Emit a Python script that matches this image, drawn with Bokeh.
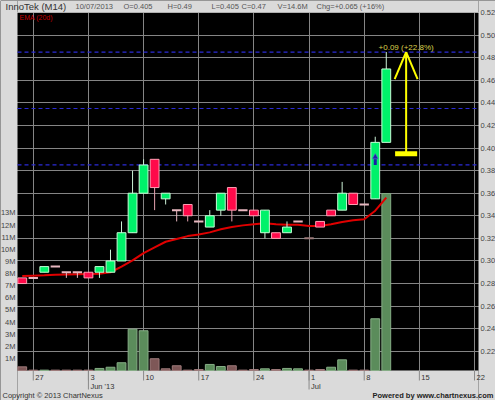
from bokeh.plotting import figure
from bokeh.models import Range1d, ColumnDataSource, Grid, FixedTicker
from bokeh.core.properties import value
from bokeh.embed import file_html
from bokeh.resources import INLINE

# ---------------- data ----------------
dates = ["2013-05-24", "2013-05-27", "2013-05-28", "2013-05-29", "2013-05-30", "2013-05-31",
         "2013-06-03", "2013-06-04", "2013-06-05", "2013-06-06", "2013-06-07",
         "2013-06-10", "2013-06-11", "2013-06-12", "2013-06-13", "2013-06-14",
         "2013-06-17", "2013-06-18", "2013-06-19", "2013-06-20", "2013-06-21",
         "2013-06-24", "2013-06-25", "2013-06-26", "2013-06-27", "2013-06-28",
         "2013-07-01", "2013-07-02", "2013-07-03", "2013-07-04", "2013-07-05",
         "2013-07-08", "2013-07-09", "2013-07-10"]
opens = [0.285, 0.285, 0.290, 0.295, 0.290, 0.290, 0.290, 0.290, 0.290, 0.300, 0.325,
         0.360, 0.390, 0.355, 0.345, 0.350, 0.335, 0.330, 0.345, 0.365, 0.345,
         0.345, 0.325, 0.325, 0.325, 0.335, 0.320, 0.335, 0.345, 0.345, 0.360,
         0.350, 0.355, 0.405]
highs = [0.285, 0.285, 0.295, 0.295, 0.290, 0.290, 0.290, 0.295, 0.310, 0.335, 0.380,
         0.390, 0.390, 0.360, 0.345, 0.350, 0.335, 0.345, 0.360, 0.365, 0.345,
         0.345, 0.345, 0.325, 0.335, 0.335, 0.320, 0.335, 0.345, 0.370, 0.360,
         0.350, 0.410, 0.485]
lows = [0.280, 0.285, 0.290, 0.295, 0.285, 0.285, 0.285, 0.285, 0.290, 0.300, 0.325,
        0.360, 0.345, 0.350, 0.335, 0.335, 0.335, 0.330, 0.340, 0.335, 0.345,
        0.340, 0.320, 0.320, 0.325, 0.335, 0.320, 0.330, 0.340, 0.345, 0.350,
        0.350, 0.355, 0.405]
closes = [0.280, 0.285, 0.295, 0.295, 0.290, 0.290, 0.285, 0.295, 0.300, 0.325, 0.360,
          0.385, 0.365, 0.360, 0.345, 0.340, 0.335, 0.340, 0.360, 0.345, 0.345,
          0.340, 0.345, 0.320, 0.330, 0.335, 0.320, 0.330, 0.340, 0.360, 0.350,
          0.350, 0.405, 0.470]
volumes_m = [0.30, 0.03, 0.03, 0.03, 0.03, 0.03, 0.03, 0.17, 0.27, 0.64, 3.41,
             3.28, 0.97, 0.14, 0.39, 0.03, 0.08, 0.50, 0.33, 0.39, 0.03,
             0.08, 0.14, 0.08, 0.17, 0.14, 0.03, 0.08, 0.27, 0.88, 0.03,
             0.03, 4.27, 14.6]
vol_up = [0, 0, 1, 0, 0, 0, 0, 1, 1, 1, 1,
          1, 0, 0, 0, 0, 0, 1, 1, 0, 0,
          0, 1, 0, 1, 1, 0, 0, 1, 1, 0,
          0, 1, 1]
ema20 = [0.2867, 0.2870, 0.2873, 0.2877, 0.2880, 0.2882, 0.2884, 0.2886, 0.2900, 0.2950, 0.3005,
         0.3070, 0.3120, 0.3170, 0.3195, 0.3220, 0.3235, 0.3253, 0.3280, 0.3300, 0.3315,
         0.3325, 0.3333, 0.3325, 0.3320, 0.3320, 0.3310, 0.3310, 0.3325, 0.3345, 0.3360,
         0.3370, 0.3445, 0.3560]
grey_doji = [26]

week_ticks = [1, 6, 11, 16, 21, 26, 31, 36, 41]
week_labels = ["27", "3", "10", "17", "24", "1", "8", "15", "22"]
month_ticks = [6, 26]
month_labels = ["Jun '13", "Jul"]
price_ticks = [0.22, 0.24, 0.26, 0.28, 0.30, 0.32, 0.34, 0.36, 0.38, 0.40,
               0.42, 0.44, 0.46, 0.48, 0.50, 0.52]
price_labels = ["0.22", "0.24", "0.26", "0.28", "0.30", "0.32", "0.34", "0.36", "0.38",
                "0.40", "0.42", "0.44", "0.46", "0.48", "0.50", "0.52"]
vol_ticks = [1, 2, 3, 4, 5, 6, 7, 8, 9, 10, 11, 12, 13]
vol_labels = ["1M", "2M", "3M", "4M", "5M", "6M", "7M", "8M", "9M", "10M", "11M", "12M", "13M"]
level_lines = [0.385, 0.435, 0.485]

move_x, move_lo, move_hi = 34.8, 0.395, 0.485
move_text = "+0.09 (+22.8%)"
signal_x, signal_lo, signal_hi = 32, 0.385, 0.395

title_text = "InnoTek (M14)"
header_items = ["10/07/2013", "O=0.405", "H=0.49", "L=0.405", "C=0.47", "V=14.6M",
                "Chg=+0.065 (+16%)"]
ema_label = "EMA (20d)"
copyright_text = "Copyright \u00a9 2013 ChartNexus"
powered_text = "Powered by www.chartnexus.com"

# ---------------- layout / style ----------------
CW, CH = 495, 400                  # canvas
CL, CR, CT, CB = 17, 478, 12, 370  # chart area in pixels
XA, XB = -0.43, 41.36              # day-index range of the chart area
YA, YB = 0.203, 0.52               # price range of the chart area
VMAX = 29.54                       # volume (M) at the top of the chart area
header_x = [75, 123, 167, 211, 241, 277, 316]
FONT = "Liberation Sans"
BG = "#dadada"
GRID = "#858585"

sx = (CR - CL) / (XB - XA)
sy = (CB - CT) / (YB - YA)
sv = (CB - CT) / VMAX

p = figure(width=CW, height=CH,
           x_range=Range1d(XA - CL / sx, XB + (CW - CR) / sx),
           y_range=Range1d(YA - (CH - CB) / sy, YB + CT / sy),
           output_backend="svg", toolbar_location=None,
           x_axis_location=None, y_axis_location=None,
           min_border=0, min_border_left=0, min_border_right=0,
           min_border_top=0, min_border_bottom=0)
p.extra_x_ranges = {"px": Range1d(0, CW)}
p.extra_y_ranges = {"vol": Range1d(-(CH - CB) / sv, VMAX + CT / sv),
                    "py": Range1d(CH, 0)}
p.center = [r for r in p.center if not isinstance(r, Grid)]
p.background_fill_color = "#000000"
p.border_fill_color = BG
p.outline_line_color = None

# grid (library grids, drawn under everything; margins are covered below)
p.add_layout(Grid(dimension=0, ticker=FixedTicker(ticks=week_ticks),
                  grid_line_color=GRID, grid_line_width=1))
p.add_layout(Grid(dimension=1, ticker=FixedTicker(ticks=price_ticks),
                  grid_line_color=GRID, grid_line_width=1))

# light grey margins round the chart area
p.quad(left=[0, CR, CL, CL], right=[CL, CW, CR, CR], top=[0, 0, 0, CB],
       bottom=[CH, CH, CT, CH], x_range_name="px", y_range_name="py",
       fill_color=BG, line_color=None)

# level lines
p.segment(x0=[CL] * len(level_lines), x1=[CR] * len(level_lines), y0=level_lines, y1=level_lines,
          x_range_name="px", line_color="#2b2bd6", line_dash="4 3", line_width=1.2)

n = len(dates)
xs = list(range(n))

# volume
vsrc = ColumnDataSource(dict(
    x=xs, v=volumes_m,
    fill=["#5b8c5b" if u else "#7e5757" for u in vol_up],
    line=["#86ad86" if u else "#9e7b7b" for u in vol_up]))
p.vbar(x="x", width=0.8, top="v", bottom=0, source=vsrc, y_range_name="vol",
       fill_color="fill", line_color="line", line_width=1)

# EMA
p.line(xs, ema20, line_color="#e00000", line_width=2)

# candles
up_col, dn_col = "#00f26a", "#ff0a4a"
wick_col = []
for i in range(n):
    if closes[i] > opens[i]:
        wick_col.append("#cdf3d8")
    elif closes[i] < opens[i]:
        wick_col.append("#e6a2b0")
    else:
        wick_col.append("#9a7a7a" if i in grey_doji else "#e8b8c0")
p.segment(x0=xs, y0=lows, x1=xs, y1=highs, line_color=wick_col, line_width=1)

bi = [i for i in range(n) if closes[i] != opens[i]]
bsrc = ColumnDataSource(dict(
    x=bi,
    top=[max(opens[i], closes[i]) for i in bi],
    bottom=[min(opens[i], closes[i]) for i in bi],
    fill=[up_col if closes[i] > opens[i] else dn_col for i in bi],
    line=["#c4ffd6" if closes[i] > opens[i] else "#ff9fb3" for i in bi]))
p.vbar(x="x", width=0.8, top="top", bottom="bottom", source=bsrc,
       fill_color="fill", line_color="line", line_width=1)

di = [i for i in range(n) if closes[i] == opens[i]]
p.rect(x=di, y=[closes[i] for i in di], width=0.85, height=2, height_units="screen",
       fill_color=[wick_col[i] for i in di], line_color=None)

# signal arrow (blue)
p.segment(x0=[signal_x], y0=[signal_lo], x1=[signal_x], y1=[signal_hi - 0.004],
          line_color="#1c1ca8", line_width=3)
p.scatter(x=[signal_x], y=[signal_hi - 0.003], marker="triangle", size=6,
          fill_color="#1c1ca8", line_color="#6a6ad0", line_width=0.5)

# yellow move annotation
YEL = "#ffff00"
p.segment(x0=[move_x], y0=[move_lo], x1=[move_x], y1=[move_hi], line_color=YEL, line_width=2)
p.segment(x0=[move_x, move_x], y0=[move_hi, move_hi],
          x1=[move_x - 1.04, move_x + 1.04], y1=[move_hi - 0.024, move_hi - 0.024],
          line_color=YEL, line_width=2)
p.segment(x0=[move_x - 1.0], y0=[move_lo], x1=[move_x + 1.0], y1=[move_lo],
          line_color=YEL, line_width=5)
p.text(x=[move_x], y=[move_hi], text=[move_text], text_align="center",
       text_baseline="bottom", text_font=value(FONT), text_font_size="8px",
       text_color="#dcd04c")

# ---- ticks and texts around the chart area ----
TICKC = "#8a8a8a"
p.segment(x0=week_ticks, x1=week_ticks, y0=[CB] * len(week_ticks), y1=[CB + 10] * len(week_ticks),
          y_range_name="py", line_color=TICKC, line_width=1)
p.segment(x0=month_ticks, x1=month_ticks, y0=[CB] * len(month_ticks),
          y1=[CB + 19] * len(month_ticks), y_range_name="py", line_color=TICKC, line_width=1)

txt = dict(text_font=value(FONT), text_baseline="middle")
p.text(x=week_ticks, y=[CB + 7] * len(week_ticks), text=week_labels, y_range_name="py",
       x_offset=2, text_align="left", text_font_size="7.5px", text_color="#333333", **txt)
p.text(x=month_ticks, y=[CB + 16] * len(month_ticks), text=month_labels, y_range_name="py",
       x_offset=2, text_align="left", text_font_size="7.5px", text_color="#333333", **txt)
p.text(x=[CR + 2] * len(price_ticks), y=price_ticks, text=price_labels, x_range_name="px",
       text_align="left", text_font_size="7.5px", text_color="#444444", **txt)
p.text(x=[CL - 2] * len(vol_ticks), y=vol_ticks, text=vol_labels, x_range_name="px",
       y_range_name="vol", text_align="right", text_font_size="7.5px", text_color="#444444", **txt)

p.text(x=[5], y=[CT / 2], text=[title_text], x_range_name="px", y_range_name="py",
       text_align="left", text_font_size="9.5px", text_color="#333333", **txt)
p.text(x=header_x, y=[CT / 2] * len(header_items), text=header_items, x_range_name="px",
       y_range_name="py", text_align="left", text_font_size="7.5px", text_color="#555555", **txt)
p.text(x=[CL + 2], y=[CT + 5], text=[ema_label], x_range_name="px", y_range_name="py",
       text_align="left", text_font_size="7px", text_color="#c00000", **txt)
p.text(x=[2], y=[CH - 5], text=[copyright_text], x_range_name="px", y_range_name="py",
       text_align="left", text_font_size="7.5px", text_color="#333333", **txt)
p.text(x=[CW - 2], y=[CH - 5], text=[powered_text], x_range_name="px", y_range_name="py",
       text_align="right", text_font_size="7.5px", text_font_style="bold",
       text_color="#222222", **txt)

open("out.html", "w").write(file_html(p, INLINE))
